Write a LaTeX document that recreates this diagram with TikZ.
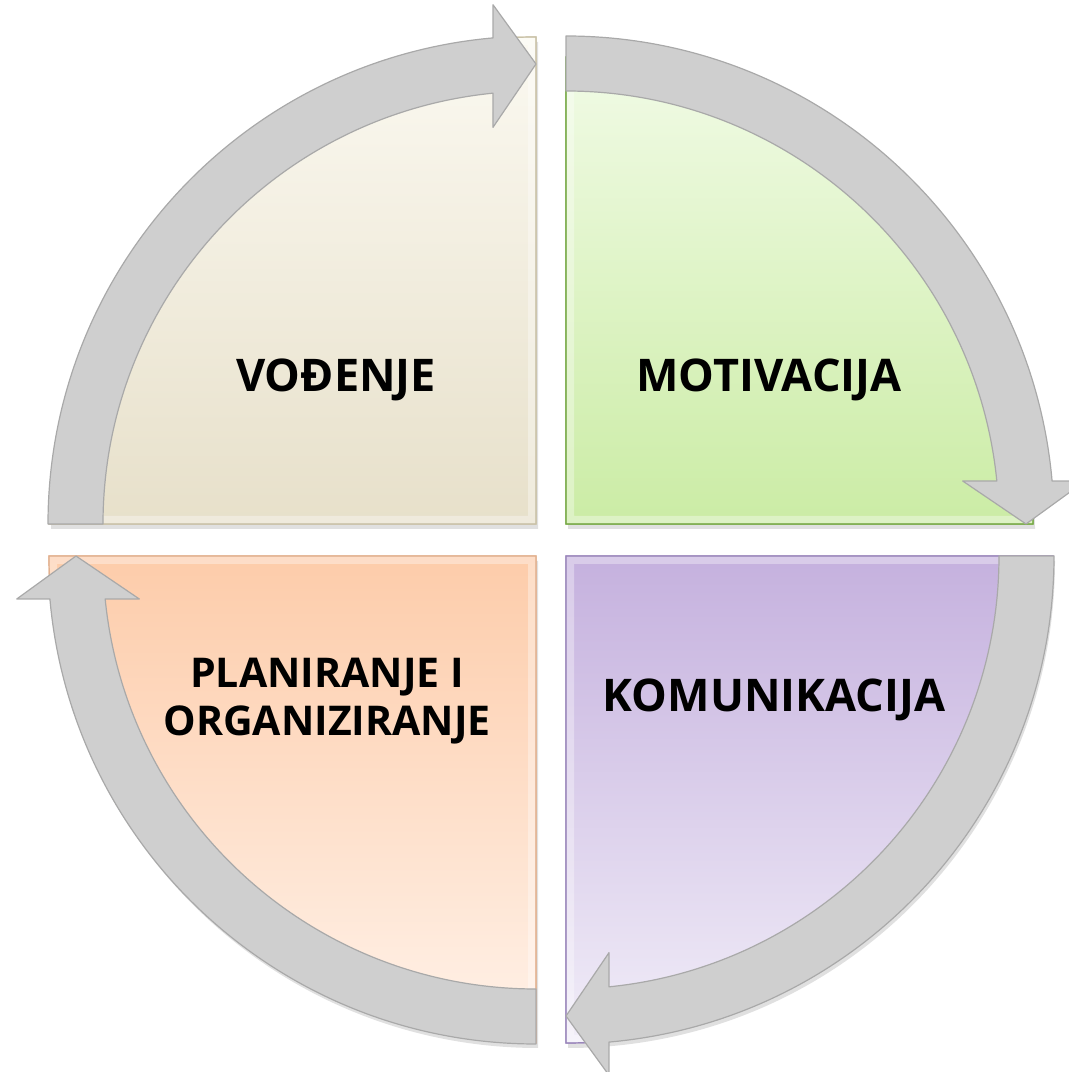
\documentclass[tikz,border=0pt]{standalone}
\usepackage{fontspec}
\setmainfont{Open Sans}
\usetikzlibrary{calc,shadows}

\definecolor{vodTop}{HTML}{FBF9F1}
\definecolor{vodBot}{HTML}{E7E0CA}
\definecolor{vodEdge}{HTML}{C9C1A6}
\definecolor{motTop}{HTML}{F1FBE6}
\definecolor{motBot}{HTML}{CBECA5}
\definecolor{motEdge}{HTML}{76A944}
\definecolor{komTop}{HTML}{C5B1DE}
\definecolor{komBot}{HTML}{F1EDF8}
\definecolor{komEdge}{HTML}{9A86BB}
\definecolor{plaTop}{HTML}{FDCCAA}
\definecolor{plaBot}{HTML}{FFF2E9}
\definecolor{plaEdge}{HTML}{E2B08E}
\definecolor{arrowGray}{HTML}{CFCFCF}
\definecolor{arrowEdge}{HTML}{A9A9A9}

\tikzset{
  quadshadow/.style={drop shadow={opacity=0.2, fill=black!60, shadow xshift=1pt, shadow yshift=-2.5pt}},
  arrowshape/.style={fill=arrowGray, draw=arrowEdge, line width=0.6pt, line join=round},
  biglabel/.style={font=\fontsize{22.5}{26}\selectfont\bfseries, text=black, align=center},
  label/.style={font=\fontsize{20.5}{24}\selectfont\bfseries, text=black, align=center}
}

% quadrant: [shading][edge colour](corner)(start:end:radius)
\def\quadrant[#1][#2](#3)(#4:#5:#6){%
  \draw[#1, draw=#2, line width=0.6pt, quadshadow] (#3) -- ($(#3)+(#4:#6)$) arc (#4:#5:#6) -- cycle;
  \begin{scope}
    \clip (#3) -- ($(#3)+(#4:#6)$) arc (#4:#5:#6) -- cycle;
    \draw[white, opacity=0.35, line width=8pt] (#3) -- ($(#3)+(#4:#6)$) arc (#4:#5:#6) -- cycle;
  \end{scope}
  \draw[draw=#2, line width=0.6pt] (#3) -- ($(#3)+(#4:#6)$) arc (#4:#5:#6) -- cycle;}

% cycle arrow: (corner)(start angle), runs 90 degrees clockwise
\def\cyclearrow(#1)(#2){%
  \draw[arrowshape] ($(#1)+(#2:488)$) arc[start angle=#2, end angle=#2-84.95, radius=488]
    -- ($(#1)+(#2-85.27:521)$) -- ($(#1)+(#2-90:460)$) -- ($(#1)+(#2-83.81:399)$)
    -- ($(#1)+(#2-84.3:433)$) arc[start angle=#2-84.3, end angle=#2, radius=433] -- cycle;}

\begin{document}
\begin{tikzpicture}[x=0.5pt, y=0.5pt]
	%%%%% START %%%%%
	\useasboundingbox (0, 0) rectangle (1069, 1072);
	
	\coordinate (cVod) at (536, 548);
	\coordinate (cMot) at (566, 548);
	\coordinate (cKom) at (566, 516);
	\coordinate (cPla) at (536, 516);
	
	\quadrant[top color=vodTop, bottom color=vodBot][vodEdge](cVod)(90:180:487)
	\quadrant[top color=motTop, bottom color=motBot][motEdge](cMot)(0:90:467)
	\quadrant[top color=komTop, bottom color=komBot][komEdge](cKom)(270:360:487)
	\quadrant[top color=plaTop, bottom color=plaBot][plaEdge](cPla)(180:270:487)
	
	\cyclearrow(cVod)(180)
	\cyclearrow(cMot)(90)
	\cyclearrow(cKom)(0)
	\cyclearrow(cPla)(270)
	
	\node[biglabel] (vodjenje) at (336, 692) {VOĐENJE};
	\node[biglabel] (motivacija) at (769, 692) {MOTIVACIJA};
	\node[biglabel] (komunikacija) at (774, 372) {KOMUNIKACIJA};
	\node[label] (planiranje) at (327, 371) {PLANIRANJE I\\ORGANIZIRANJE};
	
	%%%%% END %%%%%
\end{tikzpicture}
\end{document}
